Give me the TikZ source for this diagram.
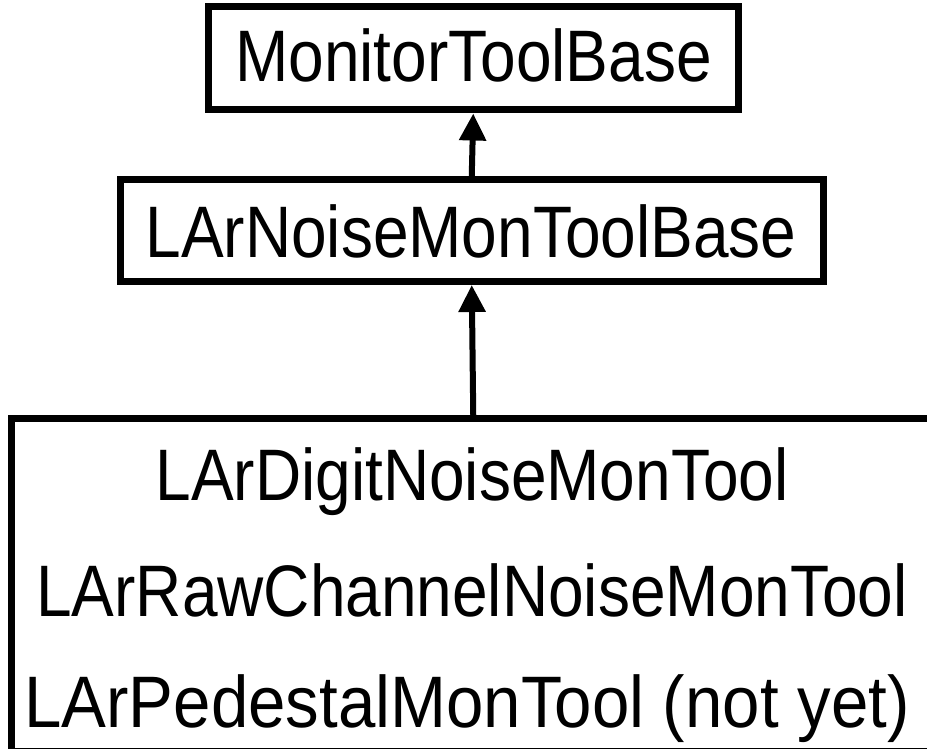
\documentclass[tikz,border=0pt]{standalone}
\usepackage{fontspec}
\setmainfont{Liberation Sans}
\usetikzlibrary{arrows.meta}
\newcommand{\tallt}[1]{\scalebox{1}[1.14]{#1}}
\newcommand{\widet}[1]{\scalebox{1.05}[1.14]{#1}}
\begin{document}
\begin{tikzpicture}[x=1pt,y=-1pt,
  boxnode/.style={draw=black,line width=7pt,rectangle,inner sep=0pt,fill=none},
  label/.style={inner sep=0pt,anchor=base,font=\fontsize{64}{64}\selectfont},
  inherit/.style={line width=6pt,-{Triangle[length=27pt,width=26pt]}}]
\useasboundingbox (0,0) rectangle (927,749);
\clip (0,0) rectangle (927,749);
\fill[white] (0,0) rectangle (927,749);
\node[boxnode,minimum width=529.5pt,minimum height=103pt] (top) at (473.25,58.5) {};
\node[boxnode,minimum width=703.5pt,minimum height=102pt] (mid) at (471.75,230.5) {};
\node[boxnode,minimum width=923.5pt,minimum height=332.5pt] (bot) at (473.25,584.75) {};
\node[label] (ttop) at (473.5,82) {\tallt{MonitorToolBase}};
\node[label] (tmid) at (471,258) {\tallt{LArNoiseMonToolBase}};
\node[label] (t1) at (472,500) {\tallt{LArDigitNoiseMonTool}};
\node[label] (t2) at (472,616) {\tallt{LArRawChannelNoiseMonTool}};
\node[label] (t3) at (467,727) {\widet{LArPedestalMonTool (not yet)}};
\draw[inherit] (mid.north) -- (top.south);
\draw[inherit] (bot.north) -- (mid.south);
\end{tikzpicture}
\end{document}
